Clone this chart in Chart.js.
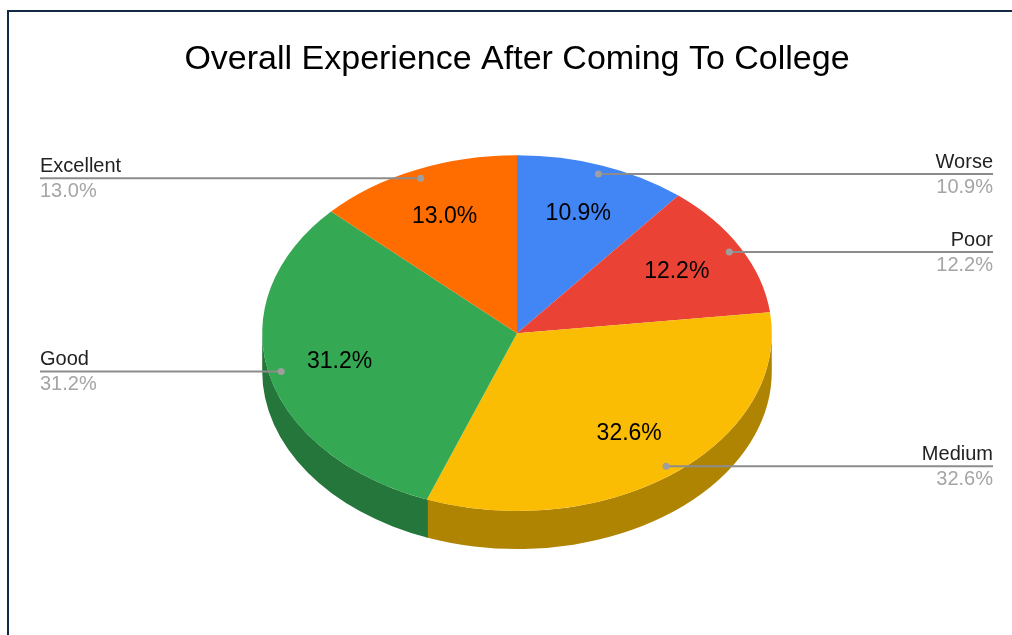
<!DOCTYPE html>
<html>
<head>
<meta charset="utf-8">
<script src="https://cdn.jsdelivr.net/npm/chart.js@4"></script>
<style>
  html, body { margin: 0; padding: 0; background: #fff; }
  #wrap { position: relative; width: 1012px; height: 635px; overflow: hidden; }
  #chart { display: block; }
  #frame { position: absolute; left: 7px; top: 10px; width: 1020px; height: 640px;
           border-top: 2px solid #132a45; border-left: 2px solid #132a45; pointer-events: none; }
</style>
</head>
<body>
<div id="wrap">
  <canvas id="chart" width="1012" height="635"></canvas>
  <div id="frame"></div>
</div>
<script>
const labels = ['Worse', 'Poor', 'Medium', 'Good', 'Excellent'];
const shares = [10.9, 12.2, 32.6, 31.2, 13.0];
const colors = ['#4285f4', '#ea4335', '#fbbc04', '#34a853', '#ff6d01'];

const FONT = 'Arial, "Liberation Sans", sans-serif';
const tilt = 0.698;   // vertical squash of the pie face
const depth = 38;     // thickness of the pie

function shade(hex, f) {
    const n = parseInt(hex.slice(1), 16);
    const r = Math.round(((n >> 16) & 255) * f);
    const g = Math.round(((n >> 8) & 255) * f);
    const b = Math.round((n & 255) * f);
    return `rgb(${r},${g},${b})`;
}

// draws the side walls, then squashes the context so the arcs come out as an ellipse
const pie3d = {
    id: 'pie3d',
    beforeDatasetsDraw(chart) {
        const ctx = chart.ctx;
        const arcs = chart.getDatasetMeta(0).data;
        if (!arcs.length) return;
        ctx.save();
        arcs.forEach((arc, i) => {
            const { x, y, startAngle, endAngle, outerRadius } = arc.getProps(['x', 'y', 'startAngle', 'endAngle', 'outerRadius']);
            const a0 = Math.max(startAngle - 0.004, 0);
            const a1 = Math.min(endAngle + 0.004, Math.PI);
            if (a1 <= a0) return;
            ctx.beginPath();
            ctx.ellipse(x, y, outerRadius, outerRadius * tilt, 0, a0, a1);
            ctx.ellipse(x, y + depth, outerRadius, outerRadius * tilt, 0, a1, a0, true);
            ctx.closePath();
            ctx.fillStyle = shade(colors[i], 0.7);
            ctx.fill();
        });
        const { x, y } = arcs[0];
        ctx.translate(x, y);
        ctx.scale(1, tilt);
        ctx.translate(-x, -y);
    },
    afterDatasetsDraw(chart) {
        if (chart.getDatasetMeta(0).data.length) chart.ctx.restore();
    }
};

// percentage inside each slice plus the leader line with name and value at the side
const sliceLabels = {
    id: 'sliceLabels',
    afterDraw(chart) {
        const ctx = chart.ctx;
        chart.getDatasetMeta(0).data.forEach((arc, i) => {
            const mid = (arc.startAngle + arc.endAngle) / 2;
            const r = arc.outerRadius;
            const px = f => arc.x + Math.cos(mid) * r * f;
            const py = f => arc.y + Math.sin(mid) * r * f * tilt;
            const text = shares[i].toFixed(1) + '%';

            ctx.save();
            ctx.font = '23px ' + FONT;
            ctx.fillStyle = '#000';
            ctx.textAlign = 'center';
            ctx.textBaseline = 'middle';
            ctx.fillText(text, px(0.715), py(0.715));

            const dx = px(0.95), dy = py(0.95);
            const right = Math.cos(mid) > 0;
            const ex = right ? chart.width - 19 : 40;
            ctx.strokeStyle = '#8c8c8c';
            ctx.lineWidth = 2;
            ctx.beginPath();
            ctx.moveTo(dx, dy);
            ctx.lineTo(ex, dy);
            ctx.stroke();
            ctx.fillStyle = '#9e9e9e';
            ctx.beginPath();
            ctx.arc(dx, dy, 3.5, 0, 2 * Math.PI);
            ctx.fill();

            ctx.font = '20px ' + FONT;
            ctx.textAlign = right ? 'right' : 'left';
            ctx.textBaseline = 'alphabetic';
            ctx.fillStyle = '#222';
            ctx.fillText(labels[i], ex, dy - 6);
            ctx.fillStyle = '#a5a5a5';
            ctx.fillText(text, ex, dy + 19);
            ctx.restore();
        });
    }
};

new Chart(document.getElementById('chart'), {
    type: 'pie',
    data: {
        labels,
        datasets: [{
            data: shares,
            backgroundColor: colors,
            borderWidth: 0
        }]
    },
    options: {
        responsive: false,
        animation: false,
        layout: { padding: { left: 22, right: 0, top: 0, bottom: 47 } },
        plugins: {
            legend: { display: false },
            tooltip: { enabled: false },
            title: {
                display: true,
                text: 'Overall Experience After Coming To College',
                color: '#000',
                font: { family: FONT, size: 34, weight: 'normal', lineHeight: 1.1 },
                padding: { top: 41, bottom: 0 }
            }
        }
    },
    plugins: [pie3d, sliceLabels]
});
</script>
</body>
</html>
